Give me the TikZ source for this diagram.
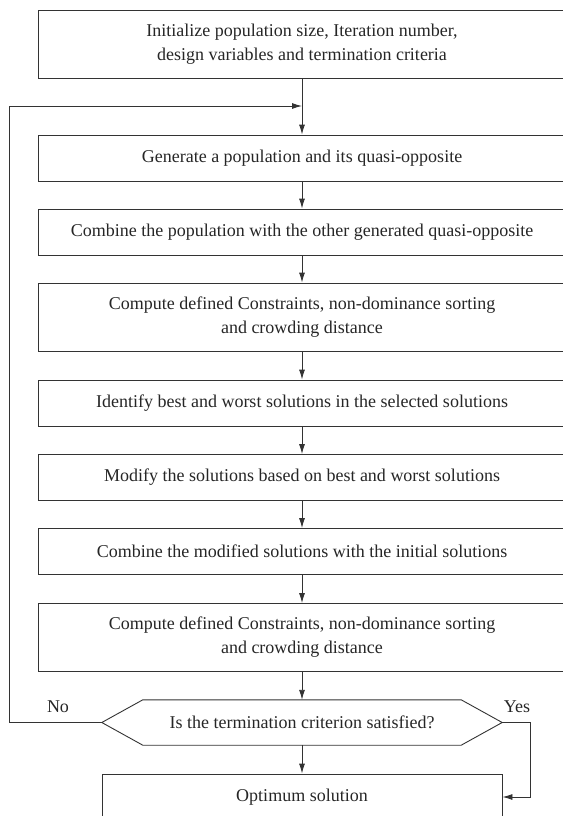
\documentclass[tikz,border=0pt]{standalone}
\usepackage{fontspec}
\setmainfont{Liberation Serif}
\usetikzlibrary{arrows.meta}

\begin{document}
\begin{tikzpicture}[x=1pt, y=-1pt,
    box/.style={draw=black!80, line width=0.9pt, minimum width=528pt, align=center, inner sep=0pt, text=black!85},
    onerow/.style={minimum height=46pt},
    tworow/.style={minimum height=68pt},
    arr/.style={draw=black!80, line width=0.9pt, -{Latex[length=10pt, width=6pt]}},
    lbl/.style={text=black!85}]
    \useasboundingbox (0, 0) rectangle (562, 816);
    \fontsize{18}{24}\selectfont

    \node[box, tworow] (init) at (302, 44) {Initialize population size, Iteration number,\\design variables and termination criteria};
    \node[box, onerow] (gen) at (302, 158) {Generate a population and its quasi-opposite};
    \node[box, onerow] (comb) at (302, 232) {Combine the population with the other generated quasi-opposite};
    \node[box, tworow] (comp) at (302, 317) {Compute defined Constraints, non-dominance sorting\\and crowding distance};
    \node[box, onerow] (ident) at (302, 403) {Identify best and worst solutions in the selected solutions};
    \node[box, onerow] (modif) at (302, 477.5) {Modify the solutions based on best and worst solutions};
    \node[box, onerow] (combmod) at (302, 551.5) {Combine the modified solutions with the initial solutions};
    \node[box, tworow] (compagain) at (302, 637.5) {Compute defined Constraints, non-dominance sorting\\and crowding distance};
    \node[minimum width=400pt, minimum height=45pt, inner sep=0pt, text=black!85] (test) at (302, 722.5) {Is the termination criterion satisfied?};
    \node[box, onerow, minimum width=400pt] (opt) at (302, 797) {Optimum solution};

    % hexagon round the test
    \draw[black!80, line width=0.9pt] (test.west) -- ([xshift=41pt]test.north west) -- ([xshift=-41pt]test.north east)
        -- (test.east) -- ([xshift=-41pt]test.south east) -- ([xshift=41pt]test.south west) -- cycle;

    \coordinate (join) at (302, 106);

    \draw[arr] (init) -- (gen);
    \draw[arr] (gen) -- (comb);
    \draw[arr] (comb) -- (comp);
    \draw[arr] (comp) -- (ident);
    \draw[arr] (ident) -- (modif);
    \draw[arr] (modif) -- (combmod);
    \draw[arr] (combmod) -- (compagain);
    \draw[arr] (compagain) -- (test.north);
    \draw[arr] (test.south) -- (opt);

    % No: back to the top
    \draw[arr] (test.west) -- ++(-92, 0) |- (join);
    \node[lbl] (no) at (58, 707) {No};
    % Yes: to the optimum
    \draw[arr] (test.east) -- ++(28, 0) |- (opt.east);
    \node[lbl] (yes) at (517, 707) {Yes};

\end{tikzpicture}
\end{document}
